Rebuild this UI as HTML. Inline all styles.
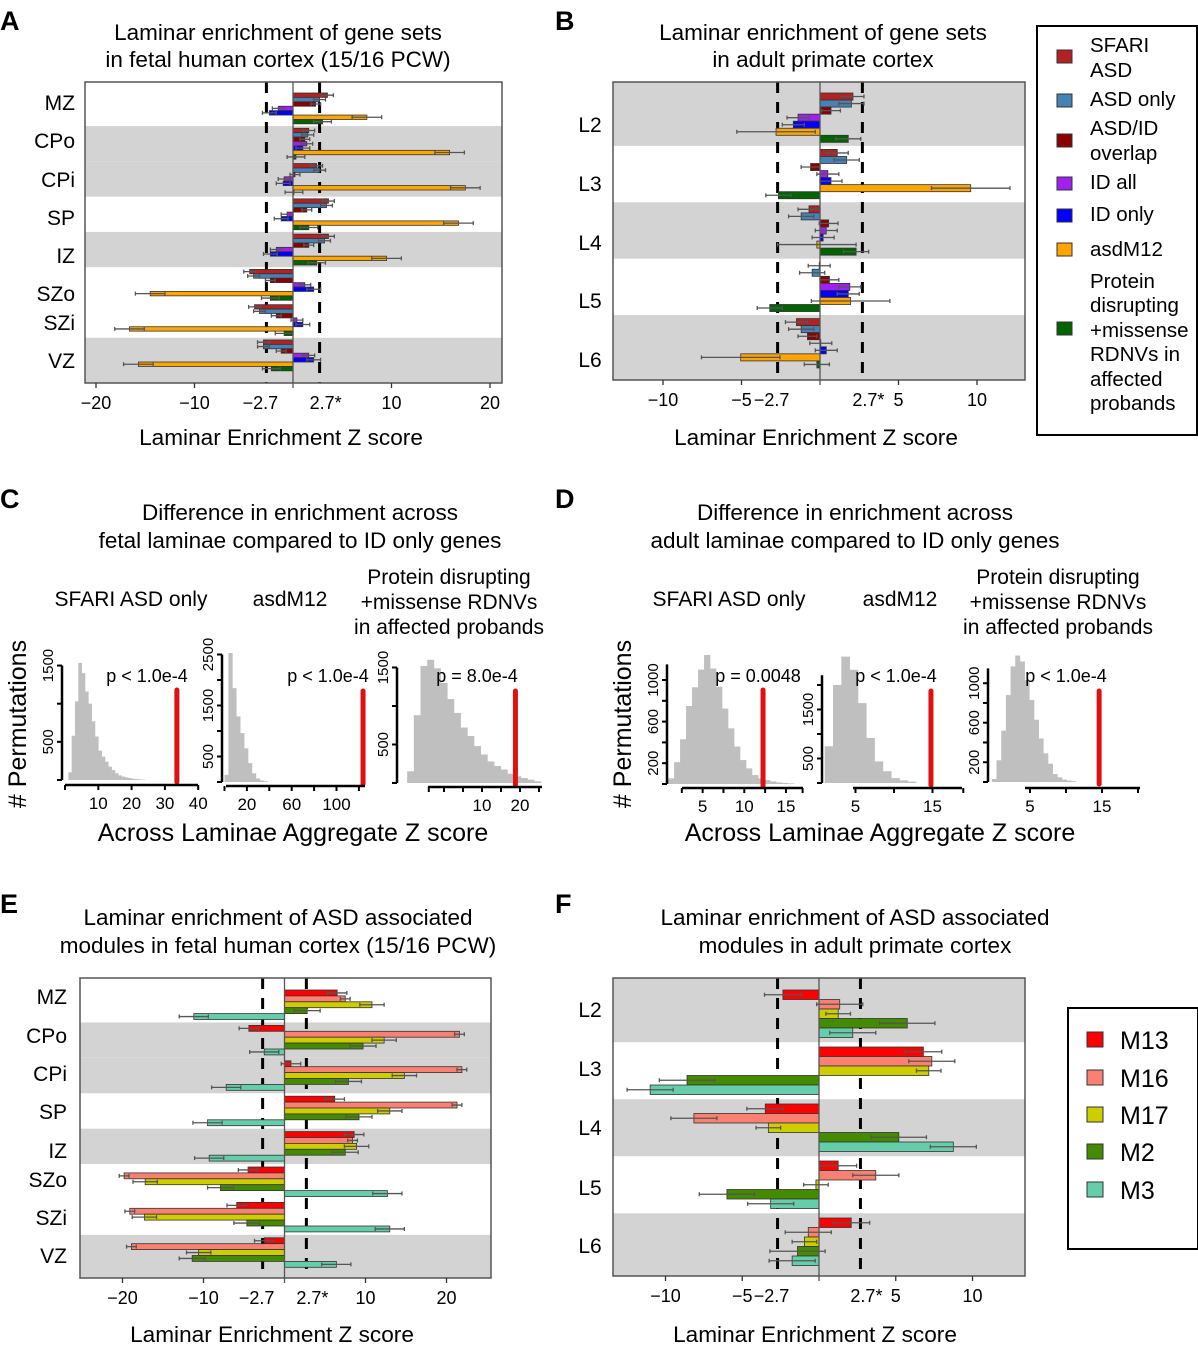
<!DOCTYPE html>
<html><head><meta charset="utf-8">
<style>
html,body{margin:0;padding:0;background:#fff;}
svg{display:block;font-family:"Liberation Sans",Arial,sans-serif;}
</style></head>
<body>
<svg id="fig" width="1198" height="1350" viewBox="0 0 1198 1350" xmlns="http://www.w3.org/2000/svg">
<g id="charts"></g>
<g id="static" fill="#000">
  <text x="0" y="30" font-size="27" font-weight="bold">A</text>
  <text x="555" y="30" font-size="27" font-weight="bold">B</text>
  <text x="0" y="508" font-size="27" font-weight="bold">C</text>
  <text x="555" y="508" font-size="27" font-weight="bold">D</text>
  <text x="0" y="913" font-size="27" font-weight="bold">E</text>
  <text x="555" y="913" font-size="27" font-weight="bold">F</text>

  <g font-size="22.5" text-anchor="middle">
    <text x="278" y="40">Laminar enrichment of gene sets</text>
    <text x="278" y="67">in fetal human cortex (15/16 PCW)</text>
    <text x="823" y="40">Laminar enrichment of gene sets</text>
    <text x="823" y="67">in adult primate cortex</text>
    <text x="300" y="520">Difference in enrichment across</text>
    <text x="300" y="548">fetal laminae compared to ID only genes</text>
    <text x="855" y="520">Difference in enrichment across</text>
    <text x="855" y="548">adult laminae compared to ID only genes</text>
    <text x="278" y="925">Laminar enrichment of ASD associated</text>
    <text x="278" y="953">modules in fetal human cortex (15/16 PCW)</text>
    <text x="855" y="925">Laminar enrichment of ASD associated</text>
    <text x="855" y="953">modules in adult primate cortex</text>
  </g>
  <g font-size="22.6" text-anchor="middle">
    <text x="281" y="445">Laminar Enrichment Z score</text>
    <text x="816" y="445">Laminar Enrichment Z score</text>
    <text x="272" y="1342">Laminar Enrichment Z score</text>
    <text x="815" y="1342">Laminar Enrichment Z score</text>
  </g>
  <g font-size="25" text-anchor="middle">
    <text x="293" y="841">Across Laminae Aggregate Z score</text>
    <text x="880" y="841">Across Laminae Aggregate Z score</text>
    <text transform="translate(26,724) rotate(-90)"># Permutations</text>
    <text transform="translate(631,724) rotate(-90)"># Permutations</text>
  </g>
  <g font-size="21" text-anchor="middle">
    <text x="131" y="606">SFARI ASD only</text>
    <text x="290" y="606">asdM12</text>
    <text x="449" y="584">Protein disrupting</text>
    <text x="449" y="609">+missense RDNVs</text>
    <text x="449" y="634">in affected probands</text>
    <text x="729" y="606">SFARI ASD only</text>
    <text x="900" y="606">asdM12</text>
    <text x="1058" y="584">Protein disrupting</text>
    <text x="1058" y="609">+missense RDNVs</text>
    <text x="1058" y="634">in affected probands</text>
  </g>
  <g font-size="18" text-anchor="middle">
    <text x="147" y="682">p &lt; 1.0e-4</text>
    <text x="328" y="682">p &lt; 1.0e-4</text>
    <text x="477" y="682">p = 8.0e-4</text>
    <text x="758" y="682">p = 0.0048</text>
    <text x="896" y="682">p &lt; 1.0e-4</text>
    <text x="1066" y="682">p &lt; 1.0e-4</text>
  </g>
</g>

<g id="legend-b">
  <rect x="1037" y="26" width="160" height="409" fill="#fff" stroke="#000" stroke-width="2"/>
  <g font-size="20.5">
    <rect x="1057" y="50" width="15" height="13" fill="#b22222" stroke="#333"/>
    <text x="1090" y="52">SFARI</text>
    <text x="1090" y="77">ASD</text>
    <rect x="1057" y="94" width="15" height="13" fill="#4682b4" stroke="#333"/>
    <text x="1090" y="106">ASD only</text>
    <rect x="1057" y="134" width="15" height="13" fill="#8b0000" stroke="#333"/>
    <text x="1090" y="135">ASD/ID</text>
    <text x="1090" y="160">overlap</text>
    <rect x="1057" y="177" width="15" height="13" fill="#a020f0" stroke="#333"/>
    <text x="1090" y="189">ID all</text>
    <rect x="1057" y="209" width="15" height="13" fill="#0000ff" stroke="#333"/>
    <text x="1090" y="221">ID only</text>
    <rect x="1057" y="243" width="15" height="13" fill="#ffa500" stroke="#333"/>
    <text x="1090" y="256">asdM12</text>
    <rect x="1057" y="322" width="15" height="13" fill="#006400" stroke="#333"/>
    <text x="1090" y="288">Protein</text>
    <text x="1090" y="312">disrupting</text>
    <text x="1090" y="337">+missense</text>
    <text x="1090" y="361">RDNVs in</text>
    <text x="1090" y="386">affected</text>
    <text x="1090" y="410">probands</text>
  </g>
</g>
<g id="legend-f">
  <rect x="1068" y="1008" width="130" height="241" fill="#fff" stroke="#000" stroke-width="2"/>
  <g font-size="25">
    <rect x="1087" y="1032" width="16" height="15" fill="#ff0000" stroke="#333"/>
    <text x="1120" y="1049">M13</text>
    <rect x="1087" y="1070" width="16" height="15" fill="#fa8072" stroke="#333"/>
    <text x="1120" y="1087">M16</text>
    <rect x="1087" y="1107" width="16" height="15" fill="#cdcd00" stroke="#333"/>
    <text x="1120" y="1124">M17</text>
    <rect x="1087" y="1144" width="16" height="15" fill="#458b00" stroke="#333"/>
    <text x="1120" y="1161">M2</text>
    <rect x="1087" y="1182" width="16" height="15" fill="#66cdaa" stroke="#333"/>
    <text x="1120" y="1199">M3</text>
  </g>
</g>
<script>
// ---------- Panel A data (fetal, gene sets) ----------
const layersA = ["MZ","CPo","CPi","SP","IZ","SZo","SZi","VZ"];
const aSfari  = [3.5, 1.6, 2.4, 3.6, 3.6, -4.4, -3.9, -3.0];
const aAsd    = [2.7, 1.5, 2.7, 3.4, 3.2, -4.0, -3.4, -3.0];
const aAsdId  = [2.3, 1.2, 0.2, 1.4, 1.6, -2.3, -1.7, -1.2];
const aIdAll  = [-1.5, 1.4, -0.9, -0.6, -1.7, 1.2, 0.4, 1.6];
const aIdOnly = [-2.4, 1.0, -1.0, -1.2, -2.3, 2.1, 1.0, 2.1];
const aM12    = [7.5, 15.9, 17.5, 16.8, 9.5, -14.5, -16.6, -15.7];
const aRdnv   = [3.0, 0.3, 0.1, 1.6, 2.4, -2.3, -0.9, -2.2];
const aErr    = [0.6, 0.6, 0.5, 0.6, 0.7, 1.5, 0.9];
const ticksA  = [-20, -10, 10, 20];

// ---------- Panel B data (adult, gene sets) ----------
const layersB = ["L2","L3","L4","L5","L6"];
const bSfari  = [2.1, 1.1, -0.7, -0.05, -1.5];
const bAsd    = [2.0, 1.7, -1.2, -0.5, -1.2];
const bAsdId  = [0.7, -0.6, 0.55, 0.6, -0.8];
const bIdAll  = [-1.4, 0.5, 0.4, 1.9, 0.05];
const bIdOnly = [-1.7, 0.7, 0.2, 1.8, 0.4];
const bM12    = [-2.8, 9.6, -0.2, 1.95, -5.05];
const bRdnv   = [1.8, -2.65, 2.3, -3.2, -0.2];
const bErr    = [0.7, 0.8, 0.6, 0.7, 0.7, 2.5, 0.8];
const ticksB  = [-10, -5, 5, 10];

// ---------- Panel E data (fetal, modules) ----------
const eM13 = [6.5, -4.4, 0.8, 6.2, 8.6, -4.5, -5.9, -2.5];
const eM16 = [7.5, 21.6, 21.9, 21.3, 8.4, -19.8, -19.1, -18.9];
const eM17 = [10.8, 12.3, 14.8, 13.0, 8.9, -17.2, -17.3, -10.6];
const eM2  = [2.8, 9.7, 7.9, 9.2, 7.5, -7.9, -4.65, -11.4];
const eM3  = [-11.2, -2.5, -7.2, -9.5, -9.3, 12.7, 13.0, 6.4];
const eErr = [1.2, 0.6, 1.5, 1.6, 1.8];
const ticksE = [-20, -10, 10, 20];

// ---------- Panel F data (adult, modules) ----------
const fM13 = [-2.35, 6.8, -3.5, 1.25, 2.1];
const fM16 = [1.35, 7.35, -8.15, 3.7, -0.7];
const fM17 = [1.25, 7.15, -3.3, -0.2, -0.95];
const fM2  = [5.75, -8.6, 5.2, -6.0, -1.4];
const fM3  = [2.2, -11.0, 8.75, -3.15, -1.75];
const fErr = [1.2, 1.5, 0.8, 1.8, 1.5];
const ticksF = [-10, -5, 5, 10];

// ---------- Histogram data ----------
const hC1 = [100,580,1030,1535,1400,1160,1000,770,570,385,307,240,175,130,88,60,45,35,25,18,12,8,5];
const hC2 = [140,2530,1840,1285,960,660,370,170,70,30,15];
const hC3 = [152,880,1520,1600,1490,1300,1090,910,720,610,480,370,280,220,175,120,87,65,43,22];
const hD1 = [54,210,430,750,930,1100,1240,1110,935,725,535,360,230,150,86,54,38,25,15,10,6];
const hD2 = [750,2000,2580,2310,1630,920,440,240,100,55,27];
const hD3 = [30,220,520,880,1170,1280,1220,1030,830,630,440,290,185,80,48,24,14,8];
const observed = [33.6, 123.7, 18.8, 12.25, 14.8, 14.6];
const ticksC1 = [10,20,30,40], ticksC2 = [20,60,100], ticksC3 = [10,20];
const ticksD1 = [5,10,15], ticksD2 = [5,15], ticksD3 = [5,15];
const yTicksC1 = [500,1500], yTicksC2 = [500,1500,2500], yTicksC3 = [500,1500];
const yTicksD1 = [200,600,1000], yTicksD2 = [500,1500], yTicksD3 = [200,600,1000];

const NS = "http://www.w3.org/2000/svg";
const root = document.getElementById("charts");
function mk(tag, attrs, parent){
  const e = document.createElementNS(NS, tag);
  for (const k in attrs) e.setAttribute(k, attrs[k]);
  (parent||root).appendChild(e);
  return e;
}

function barPanel(cfg){
  const g = mk("g", {});
  
  
  const X = z => cfg.x0 + z*cfg.ppu;
  const nS = cfg.series.length, step = nS + 1;
  const groupTop = gi => cfg.firstTop + gi*step*cfg.u;
  const bg = mk("rect", {x:cfg.L, y:cfg.T, width:cfg.R-cfg.L, height:cfg.B-cfg.T, fill:"#fff"}, g);
  
  
  cfg.layers.forEach((lab, gi) => {
    if (cfg.bands.indexOf(gi) >= 0){
      let y1 = groupTop(gi) - 0.5*cfg.u, y2 = groupTop(gi) + (nS+0.5)*cfg.u;
      if (gi === 0) y1 = cfg.T;
      if (gi === cfg.layers.length-1) y2 = cfg.B;
      y1 = Math.max(y1, cfg.T); y2 = Math.min(y2, cfg.B);
      const band = mk("rect", {x:cfg.L, y:y1, width:cfg.R-cfg.L, height:y2-y1, fill:"#d3d3d3"}, g);
      
      
    }
  });
  [-2.7, 2.7].forEach(v => {
    const dl = mk("line", {x1:X(v), x2:X(v), y1:cfg.T, y2:cfg.B, stroke:"#000", "stroke-width":3, "stroke-dasharray":"11,9"}, g);
    
    
  });
  cfg.layers.forEach((lab, gi) => {
    cfg.series.forEach((s, si) => {
      const v = s.vals[gi];
      const y = groupTop(gi) + si*cfg.u;
      const x1 = Math.min(X(0), X(v)), w = Math.abs(X(v)-X(0));
      const r = mk("rect", {x:x1, y:y, width:w, height:cfg.u, fill:s.color, stroke:"#333", "stroke-width":0.8}, g);
      
      
      const e = cfg.err[si], ym = y + cfg.u/2;
      const eb = mk("path", {d:`M${X(v-e)},${ym}H${X(v+e)}M${X(v-e)},${ym-2}V${ym+2}M${X(v+e)},${ym-2}V${ym+2}`, stroke:"#555", "stroke-width":1.3, fill:"none"}, g);
      
      
    });
    const lt = mk("text", {x:cfg.labX, y:cfg.labY[gi] + 7, "font-size":21, "text-anchor":cfg.labAnchor}, g);
    lt.textContent = lab;
    
    
  });
  const zl = mk("line", {x1:X(0), x2:X(0), y1:cfg.T, y2:cfg.B + 5, stroke:"#555", "stroke-width":1.3}, g);
  
  
  const fr = mk("rect", {x:cfg.L, y:cfg.T, width:cfg.R-cfg.L, height:cfg.B-cfg.T, fill:"none", stroke:"#555", "stroke-width":1.5}, g);
  
  
  cfg.ticks.forEach(t => {
    const tk = mk("line", {x1:X(t), x2:X(t), y1:cfg.B, y2:cfg.B+5, stroke:"#333", "stroke-width":1.3}, g);
    
    
    const tl = mk("text", {x:X(t), y:cfg.B+26, "font-size":18, "text-anchor":"middle"}, g);
    tl.textContent = t < 0 ? "\u2212" + Math.abs(t) : String(t);
    
    
  });
  [[-2.7, "\u22122.7", -6], [2.7, "2.7*", 6]].forEach(([v, s, dx]) => {
    const tl = mk("text", {x:X(v)+dx, y:cfg.B+26, "font-size":18, "text-anchor":"middle"}, g);
    tl.textContent = s;
    
    
  });
}

function histPanel(cfg){
  const g = mk("g", {});
  
  
  const X = v => cfg.x0 + v*cfg.ppu;
  const Y = c => cfg.y0 - c*cfg.ppc;
  cfg.counts.forEach((c, i) => {
    const v = cfg.start + i*cfg.bw;
    const r = mk("rect", {x:X(v), y:Y(c), width:cfg.bw*cfg.ppu + 0.3, height:cfg.y0 - Y(c), fill:"#bfbfbf"}, g);
    
    
  });
  const red = mk("line", {x1:X(cfg.obs), x2:X(cfg.obs), y1:cfg.y0 + 2, y2:cfg.redTop, stroke:"#e01010", "stroke-width":5, "stroke-linecap":"round"}, g);
  
  
  const ya = mk("line", {x1:cfg.yAxX, x2:cfg.yAxX, y1:Y(0), y2:Y(cfg.yMax), stroke:"#000", "stroke-width":2.5}, g);
  
  
  cfg.yMinor.forEach(c => {
    const tk = mk("line", {x1:cfg.yAxX-5, x2:cfg.yAxX, y1:Y(c), y2:Y(c), stroke:"#000", "stroke-width":2}, g);
    
    
  });
  cfg.yTicks.forEach(c => {
    const tl = mk("text", {transform:`translate(${cfg.yAxX-9},${Y(c)}) rotate(-90)`, "font-size":15, "text-anchor":"middle"}, g);
    tl.textContent = String(c);
    
    
  });
  const xa = mk("line", {x1:cfg.xa1, x2:cfg.xa2, y1:cfg.xAxY, y2:cfg.xAxY, stroke:"#000", "stroke-width":2.5}, g);
  
  
  cfg.xMinor.forEach(v => {
    const tk = mk("line", {x1:X(v), x2:X(v), y1:cfg.xAxY, y2:cfg.xAxY+5, stroke:"#000", "stroke-width":2}, g);
    
    
  });
  cfg.xTicks.forEach(v => {
    const tl = mk("text", {x:X(v), y:cfg.xAxY+24, "font-size":17, "text-anchor":"middle"}, g);
    tl.textContent = String(v);
    
    
  });
}

const geneSeries = (s,a,ai,ia,io,m,r) => [
  {key:"sfari", color:"#b22222", vals:s}, {key:"asd-only", color:"#4682b4", vals:a},
  {key:"asd-id", color:"#8b0000", vals:ai}, {key:"id-all", color:"#a020f0", vals:ia},
  {key:"id-only", color:"#0000ff", vals:io}, {key:"asdm12", color:"#ffa500", vals:m},
  {key:"rdnv", color:"#006400", vals:r}];
const modSeries = (a,b,c,d,e) => [
  {key:"m13", color:"#ff0000", vals:a}, {key:"m16", color:"#fa8072", vals:b},
  {key:"m17", color:"#cdcd00", vals:c}, {key:"m2", color:"#458b00", vals:d},
  {key:"m3", color:"#66cdaa", vals:e}];

barPanel({name:"panel-a-chart", L:85, R:502, T:82, B:383, x0:293, ppu:9.85, u:4.41, firstTop:93,
  layers:layersA, bands:[1,2,4,7], labX:75, labY:[103,141,180,218,256,294,323,361], labAnchor:"end", ticks:ticksA, err:aErr,
  series:geneSeries(aSfari,aAsd,aAsdId,aIdAll,aIdOnly,aM12,aRdnv)});
barPanel({name:"panel-b-chart", L:613, R:1025, T:82, B:380, x0:820, ppu:15.7, u:7.05, firstTop:93,
  layers:layersB, bands:[0,2,4], labX:590, labY:[125,184,243,301,360], labAnchor:"middle", ticks:ticksB, err:bErr,
  series:geneSeries(bSfari,bAsd,bAsdId,bIdAll,bIdOnly,bM12,bRdnv)});
barPanel({name:"panel-e-chart", L:80, R:491, T:978, B:1278, x0:284.5, ppu:8.1, u:5.9, firstTop:990,
  layers:layersA, bands:[1,2,4,7], labX:67, labY:[997,1036,1074,1112,1151,1180,1218,1256], labAnchor:"end", ticks:ticksE, err:eErr,
  series:modSeries(eM13,eM16,eM17,eM2,eM3)});
barPanel({name:"panel-f-chart", L:613, R:1025, T:978, B:1276, x0:819, ppu:15.35, u:9.5, firstTop:990,
  layers:layersB, bands:[0,2,4], labX:590, labY:[1010,1069,1128,1188,1246], labAnchor:"middle", ticks:ticksF, err:fErr,
  series:modSeries(fM13,fM16,fM17,fM2,fM3)});

histPanel({name:"hist-c-sfari", counts:hC1, start:1.0, bw:1, x0:65, ppu:3.33, y0:780, ppc:0.0763,
  obs:observed[0], redTop:690, yAxX:62, yMax:1500, yTicks:yTicksC1, yMinor:[0,500,1000,1500],
  xAxY:785, xa1:65, xa2:198, xTicks:ticksC1, xMinor:[0,10,20,30,40]});
histPanel({name:"hist-c-asdm12", counts:hC2, start:0, bw:3.5, x0:224.5, ppu:1.12, y0:782, ppc:0.051,
  obs:observed[1], redTop:691, yAxX:222, yMax:2500, yTicks:yTicksC2, yMinor:[0,500,1000,1500,2000,2500],
  xAxY:786, xa1:226, xa2:365, xTicks:ticksC2, xMinor:[0,20,40,60,80,100,120]});
histPanel({name:"hist-c-protein", counts:hC3, start:-9.7, bw:1.76, x0:444, ppu:3.8, y0:783, ppc:0.077,
  obs:observed[2], redTop:691, yAxX:397, yMax:1500, yTicks:yTicksC3, yMinor:[0,500,1000,1500],
  xAxY:787, xa1:428, xa2:542, xTicks:ticksC3, xMinor:[-4,0,5,10,15,20,25]});
histPanel({name:"hist-d-sfari", counts:hD1, start:0.85, bw:0.72, x0:661, ppu:8.33, y0:784, ppc:0.104,
  obs:observed[3], redTop:690, yAxX:667, yMax:1150, yTicks:yTicksD1, yMinor:[0,200,400,600,800,1000],
  xAxY:788, xa1:682, xa2:803, xTicks:ticksD1, xMinor:[2.5,5,7.5,10,12.5,15,17]});
histPanel({name:"hist-d-asdm12", counts:hD2, start:1.0, bw:1.08, x0:817, ppu:7.7, y0:783, ppc:0.049,
  obs:observed[4], redTop:691, yAxX:822, yMax:2200, yTicks:yTicksD2, yMinor:[0,500,1000,1500,2000],
  xAxY:788, xa1:853, xa2:962, xTicks:ticksD2, xMinor:[5,10,15,19]});
histPanel({name:"hist-d-protein", counts:hD3, start:-0.3, bw:0.65, x0:994, ppu:7.2, y0:782, ppc:0.0988,
  obs:observed[5], redTop:691, yAxX:988, yMax:1150, yTicks:yTicksD3, yMinor:[0,200,400,600,800,1000],
  xAxY:788, xa1:1025, xa2:1140, xTicks:ticksD3, xMinor:[5,10,15,20]});
</script>
</body></html>
